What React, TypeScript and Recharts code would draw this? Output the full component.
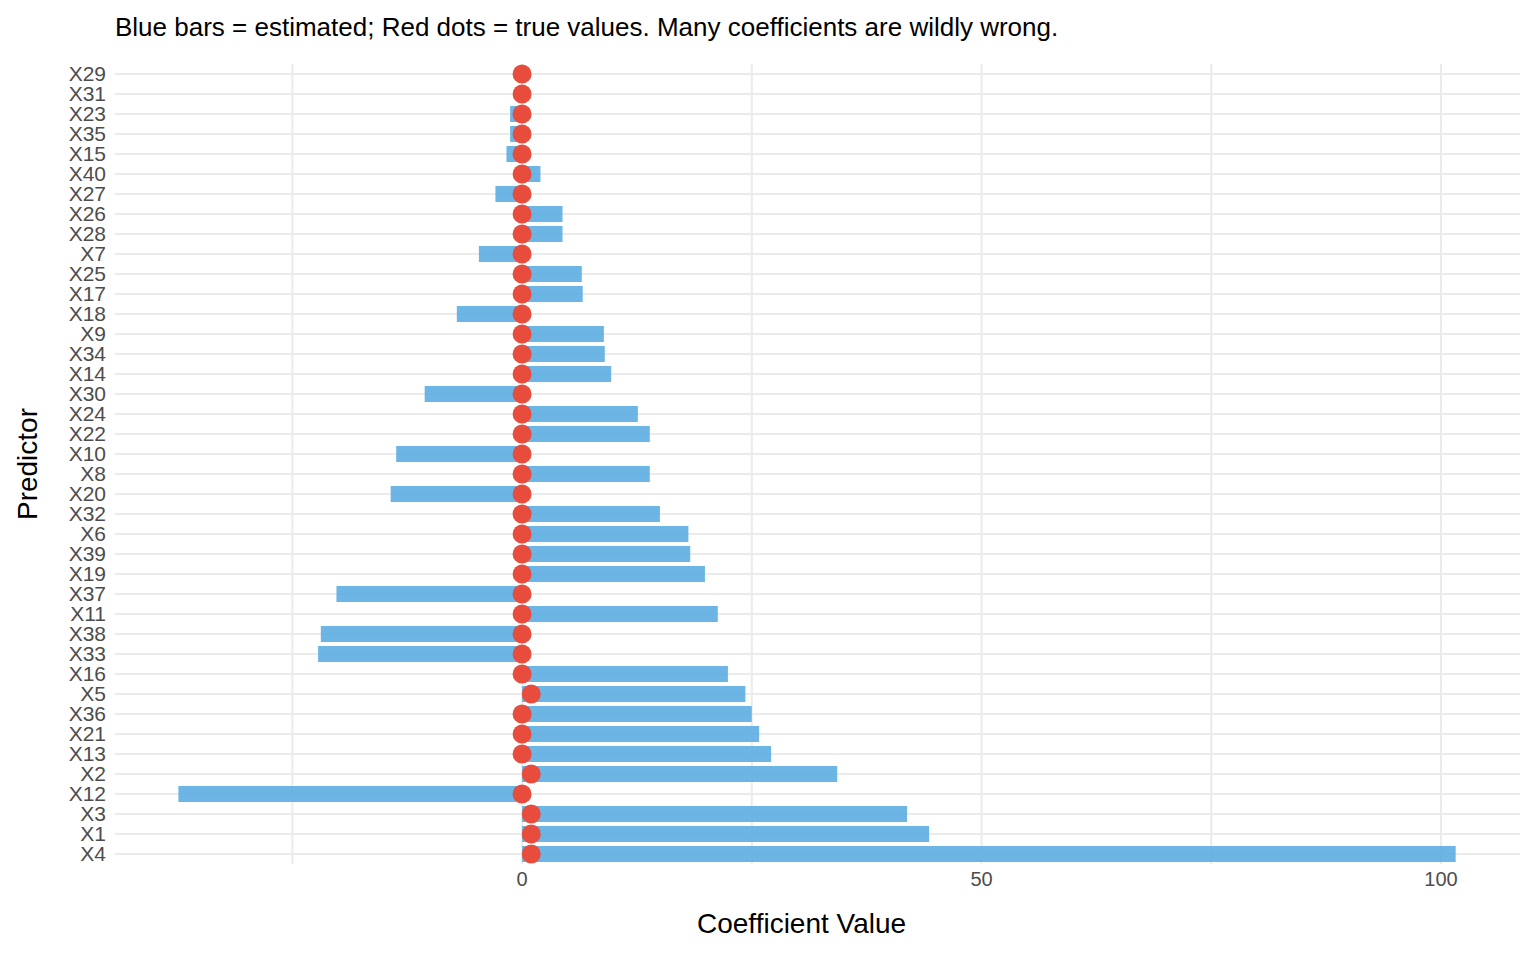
import React from "react";
import { ComposedChart, Bar, Line, XAxis, YAxis, CartesianGrid } from "recharts";

const predictors = ["X29","X31","X23","X35","X15","X40","X27","X26","X28","X7","X25","X17","X18","X9","X34","X14","X30","X24","X22","X10","X8","X20","X32","X6","X39","X19","X37","X11","X38","X33","X16","X5","X36","X21","X13","X2","X12","X3","X1","X4"];
const estimated = [0.1,0.1,-1.3,-1.3,-1.7,2.0,-2.9,4.4,4.4,-4.7,6.5,6.6,-7.1,8.9,9.0,9.7,-10.6,12.6,13.9,-13.7,13.9,-14.3,15.0,18.1,18.3,19.9,-20.2,21.3,-21.9,-22.2,22.4,24.3,25.0,25.8,27.1,34.3,-37.4,41.9,44.3,101.6];
const truth = [0,0,0,0,0,0,0,0,0,0,0,0,0,0,0,0,0,0,0,0,0,0,0,0,0,0,0,0,0,0,0,1,0,0,0,1,0,1,1,1];
const xTicks = [-25, 0, 25, 50, 75, 100];
const labeledTicks = [0, 50, 100];

const data = predictors.map((p, i) => ({ p, est: estimated[i], truth: truth[i] }));
const font = "Liberation Sans, Arial, sans-serif";

export default function App() {
  return (
    <div style={{ position: "absolute", left: 0, top: 0, width: 1536, height: 960, background: "#fff", fontFamily: font }}>
      <div style={{ position: "absolute", left: 115, top: 12, fontSize: 26, color: "#000" }}>
        Blue bars = estimated; Red dots = true values. Many coefficients are wildly wrong.
      </div>
      <div style={{ position: "absolute", left: 697, top: 908, fontSize: 28, color: "#000" }}>Coefficient Value</div>
      <div style={{ position: "absolute", left: 28, top: 464, fontSize: 28, transform: "translate(-50%,-50%) rotate(-90deg)", whiteSpace: "nowrap" }}>
        Predictor
      </div>
      <ComposedChart width={1536} height={960} data={data} layout="vertical"
        margin={{ top: 64, right: 16, bottom: 66, left: 55 }} barCategoryGap="10%">
        <CartesianGrid stroke="#ebebeb" strokeWidth={2} syncWithTicks />
        <XAxis type="number" domain={[-44.3, 108.6]} ticks={xTicks} allowDataOverflow
          tickFormatter={(v) => (labeledTicks.includes(v) ? String(v) : "")}
          axisLine={false} tickLine={false} height={30}
          tick={{ fill: "#4d4d4d", fontSize: 20, fontFamily: font }} />
        <YAxis type="category" dataKey="p" width={60} axisLine={false} tickLine={false} interval={0}
          tick={{ fill: "#4d4d4d", fontSize: 21, fontFamily: font }} tickMargin={3} />
        <Bar dataKey="est" fill="#5DADE2" fillOpacity={0.9} isAnimationActive={false} />
        <Line dataKey="truth" stroke="none" isAnimationActive={false}
          dot={{ r: 9.5, fill: "#E74C3C", stroke: "none" }} activeDot={false} />
      </ComposedChart>
    </div>
  );
}
